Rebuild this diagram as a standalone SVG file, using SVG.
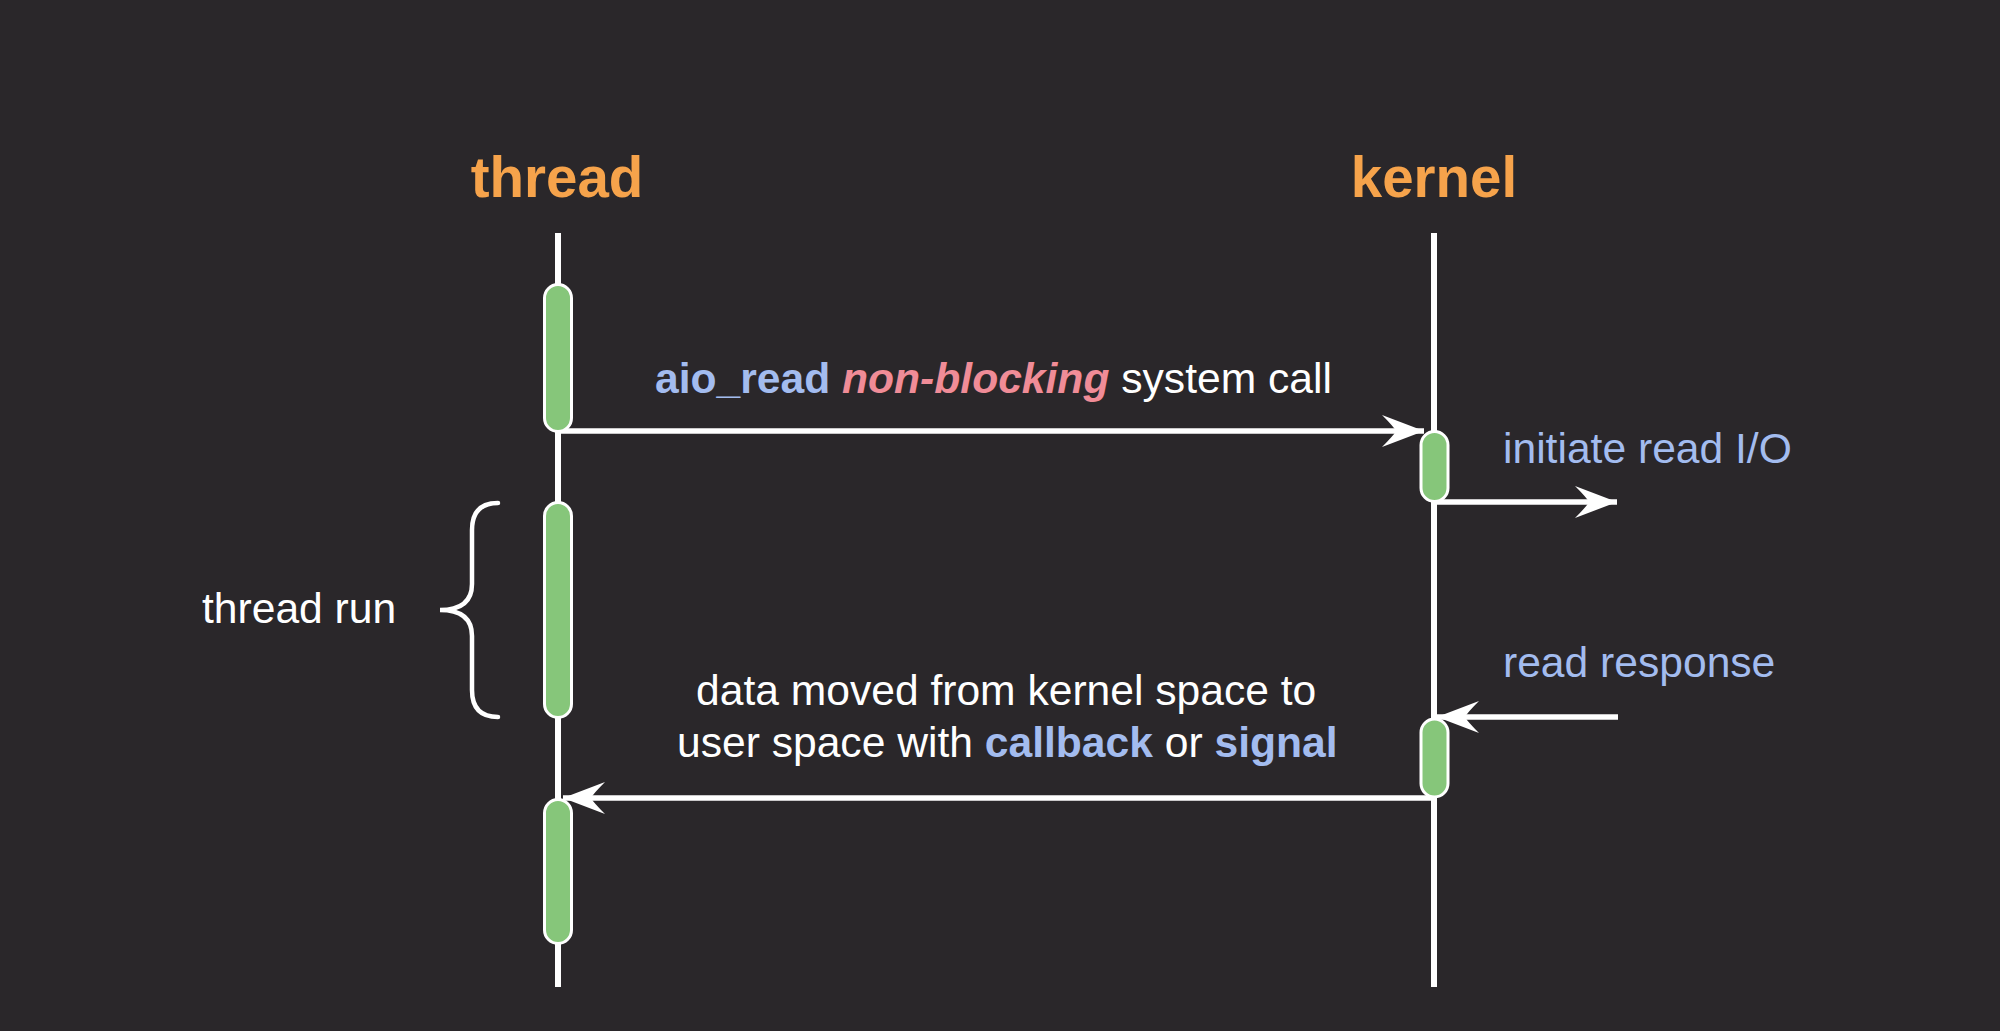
<svg xmlns="http://www.w3.org/2000/svg" width="2000" height="1031" viewBox="0 0 2000 1031">
  <style>
    .hdr { font-family: "Liberation Sans", Arial, sans-serif; font-size: 56.5px; font-weight: bold; fill: #F6A34B; text-anchor: middle; }
    .txt { font-family: "Liberation Sans", Arial, sans-serif; font-size: 42.6px; fill: #FFFFFF; }
    .blue { fill: #A3BCEF; }
    .b { font-weight: bold; }
    .pink { fill: #F08C97; font-weight: bold; font-style: italic; }
    .life { stroke: #FFFFFF; stroke-width: 6; fill: none; }
    .act { fill: #86C67A; stroke: #FFFFFF; stroke-width: 3; }
    .conn { stroke: #FFFFFF; stroke-width: 5.5; fill: none; marker-end: url(#ah); }
    .brace { stroke: #FFFFFF; stroke-width: 4.5; fill: none; stroke-linecap: round; }
  </style>
  <defs>
    <marker id="ah" markerUnits="userSpaceOnUse" viewBox="-48 -20 52 40" refX="0" refY="0" markerWidth="52" markerHeight="40" orient="auto">
      <path d="M0,0 L-42,-16 Q-30,-4 -28,0 Q-30,4 -42,16 Z" fill="#FFFFFF"/>
    </marker>
  </defs>
  <rect x="0" y="0" width="2000" height="1031" fill="#2A272A"/>

  <g id="thread">
    <text class="hdr" x="557" y="197">thread</text>
    <line class="life" x1="558" y1="233" x2="558" y2="987"/>
  </g>
  <g id="kernel">
    <text class="hdr" x="1434" y="197">kernel</text>
    <line class="life" x1="1434" y1="233" x2="1434" y2="987"/>
  </g>

  <g id="connectors">
    <line class="conn" x1="558" y1="431" x2="1424" y2="431"/>
    <line class="conn" x1="1434" y1="502" x2="1617" y2="502"/>
    <line class="conn" x1="1618" y1="717" x2="1437" y2="717"/>
    <line class="conn" x1="1434" y1="798" x2="563" y2="798"/>
  </g>

  <g id="thread-act-1"><rect class="act" x="544.5" y="284.5" width="27" height="147" rx="13.5"/></g>
  <g id="thread-act-2"><rect class="act" x="544.5" y="502.5" width="27" height="215" rx="13.5"/></g>
  <g id="thread-act-3"><rect class="act" x="544.5" y="799.5" width="27" height="144" rx="13.5"/></g>
  <g id="kernel-act-1"><rect class="act" x="1421" y="431.5" width="27" height="70" rx="13.5"/></g>
  <g id="kernel-act-2"><rect class="act" x="1421" y="719" width="27" height="78" rx="13.5"/></g>

  <g id="thread-run">
    <path class="brace" d="M498,503 Q472,503 472,530 L472,584 Q472,610 440,610 Q472,610 472,636 L472,690 Q472,717 498,717"/>
    <text class="txt" x="202" y="623">thread run</text>
  </g>

  <g id="labels">
    <text class="txt" x="655" y="393"><tspan class="blue b">aio_read</tspan> <tspan class="pink">non-blocking</tspan> system call</text>
    <text class="txt blue" x="1503" y="463">initiate read I/O</text>
    <text class="txt blue" x="1503" y="677">read response</text>
    <text class="txt" x="696" y="705">data moved from kernel space to</text>
    <text class="txt" x="677" y="757">user space with <tspan class="blue b">callback</tspan> or <tspan class="blue b">signal</tspan></text>
  </g>
</svg>
